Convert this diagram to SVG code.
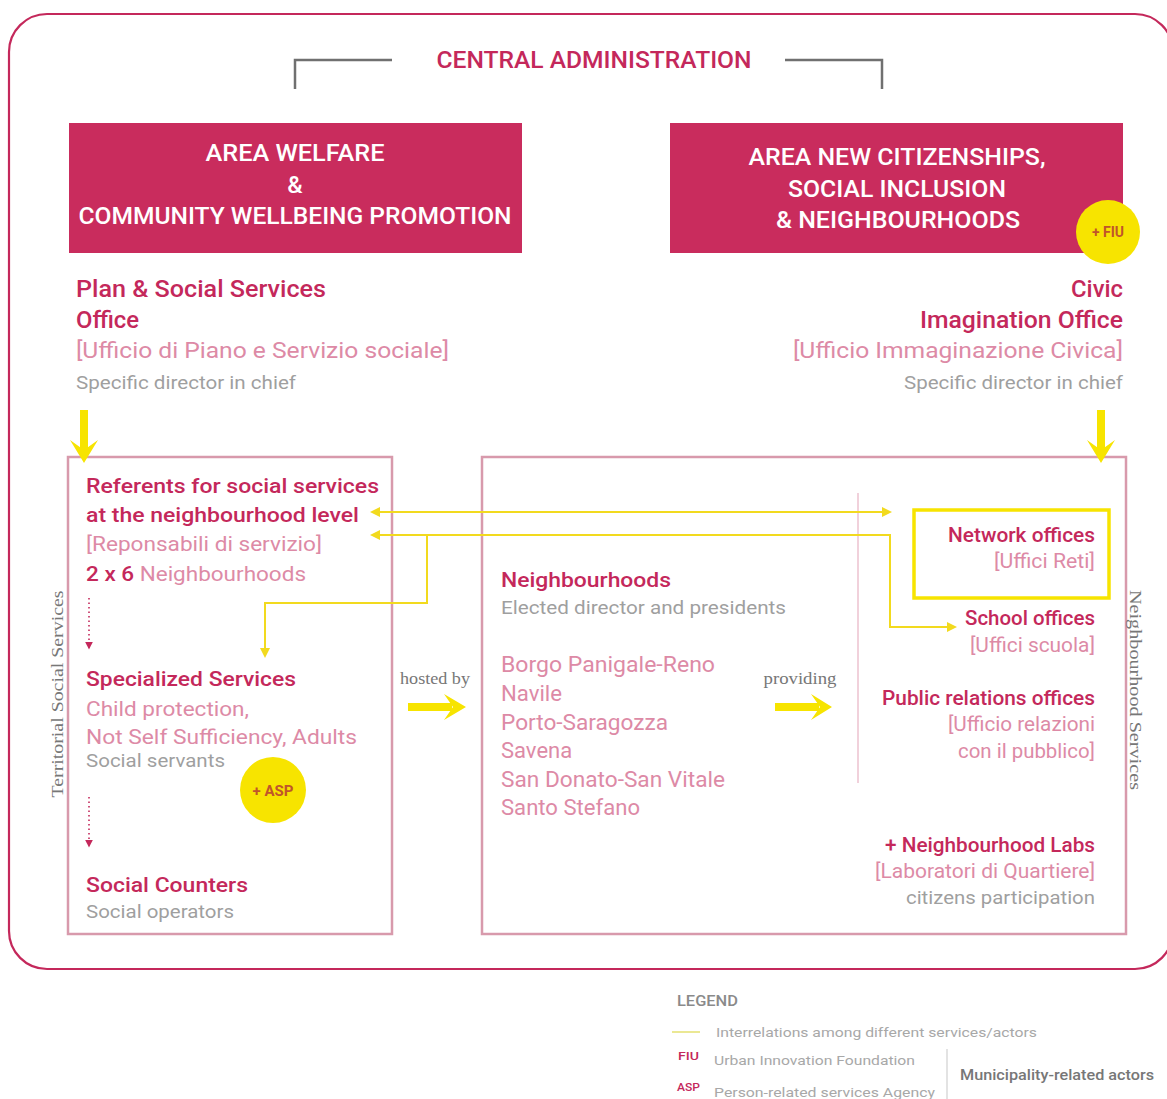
<svg xmlns="http://www.w3.org/2000/svg" width="1167" height="1099" viewBox="0 0 1167 1099">
  <style>
    text { font-family: Roboto, "Liberation Sans", sans-serif; }
    .hdr { fill: #ffffff; font-size: 24px; font-weight: 500; text-anchor: middle; }
    .ttl { fill: #c4285b; font-size: 24px; font-weight: 500; }
    .sub { fill: #c4285b; font-size: 21px; font-weight: 500; }
    .lt  { fill: #dd8aa6; font-size: 22px; }
    .lts { fill: #dd8aa6; font-size: 20px; }
    .gr  { fill: #9f9f9f; font-size: 19px; }
    .end { text-anchor: end; }
    .serif { font-family: "Liberation Serif", serif; fill: #777777; font-size: 17px; }
    .box { fill: #c92c5d; }
    .panel { fill: none; stroke: #d89aac; stroke-width: 2.5; }
    .yel { fill: #f7e400; }
    .link { fill: none; stroke: #f2da1e; stroke-width: 2; }
    .dot { fill: none; stroke: #c4285b; stroke-width: 1.6; stroke-dasharray: 1.5 3; }
    .leg { fill: #a8a8a8; font-size: 13.5px; }
  </style>
  <defs>
    <marker id="tip" viewBox="0 0 10 10" refX="8" refY="5" markerWidth="5" markerHeight="5" orient="auto-start-reverse">
      <path d="M0 0 L10 5 L0 10 Z" fill="#f2da1e"/>
    </marker>
    <marker id="dtip" viewBox="0 0 10 10" refX="8" refY="5" markerWidth="5" markerHeight="5" orient="auto">
      <path d="M0 0 L10 5 L0 10 Z" fill="#c4285b"/>
    </marker>
  </defs>

  <!-- outer frame -->
  <rect x="9" y="14" width="1164" height="955" rx="38" fill="none" stroke="#c4285b" stroke-width="2.2"/>

  <!-- central administration heading with brackets -->
  <g id="central">
    <path d="M295 89 V60 H392" fill="none" stroke="#707070" stroke-width="2.5"/>
    <path d="M785 60 H882 V89" fill="none" stroke="#707070" stroke-width="2.5"/>
    <text x="594" y="68" text-anchor="middle" fill="#c4285b" font-size="24" font-weight="500" textLength="315" lengthAdjust="spacingAndGlyphs">CENTRAL ADMINISTRATION</text>
  </g>

  <!-- area headers -->
  <g id="area-welfare">
    <rect class="box" x="69" y="123" width="453" height="130"/>
    <text class="hdr" x="295" y="161" textLength="179" lengthAdjust="spacingAndGlyphs">AREA WELFARE</text>
    <text class="hdr" x="295" y="193">&amp;</text>
    <text class="hdr" x="295" y="224" textLength="433" lengthAdjust="spacingAndGlyphs">COMMUNITY WELLBEING PROMOTION</text>
  </g>
  <g id="area-citizenships">
    <rect class="box" x="670" y="123" width="453" height="130"/>
    <text class="hdr" x="897" y="165" textLength="297" lengthAdjust="spacingAndGlyphs">AREA NEW CITIZENSHIPS,</text>
    <text class="hdr" x="897" y="197" textLength="218" lengthAdjust="spacingAndGlyphs">SOCIAL INCLUSION</text>
    <text class="hdr" x="898" y="228" textLength="244" lengthAdjust="spacingAndGlyphs">&amp; NEIGHBOURHOODS</text>
    <circle class="yel" cx="1108" cy="232" r="32"/>
    <text x="1108" y="237" text-anchor="middle" fill="#c0552a" font-size="14" font-weight="700">+ FIU</text>
  </g>

  <!-- offices -->
  <g id="plan-office">
    <text class="ttl" x="76" y="297" textLength="250" lengthAdjust="spacingAndGlyphs">Plan &amp; Social Services</text>
    <text class="ttl" x="76" y="328" textLength="63" lengthAdjust="spacingAndGlyphs">Office</text>
    <text class="lt" x="76" y="358" textLength="373" lengthAdjust="spacingAndGlyphs">[Ufficio di Piano e Servizio sociale]</text>
    <text class="gr" x="76" y="389" textLength="220" lengthAdjust="spacingAndGlyphs">Specific director in chief</text>
  </g>
  <g id="civic-office">
    <text class="ttl end" x="1123" y="297" textLength="52" lengthAdjust="spacingAndGlyphs">Civic</text>
    <text class="ttl end" x="1123" y="328" textLength="203" lengthAdjust="spacingAndGlyphs">Imagination Office</text>
    <text class="lt end" x="1123" y="358" textLength="330" lengthAdjust="spacingAndGlyphs">[Ufficio Immaginazione Civica]</text>
    <text class="gr end" x="1123" y="389" textLength="219" lengthAdjust="spacingAndGlyphs">Specific director in chief</text>
  </g>

  <!-- territorial social services panel -->
  <g id="territorial">
    <rect class="panel" x="68" y="457" width="324" height="477"/>
    <text class="serif" transform="translate(63 694) rotate(-90)" text-anchor="middle" textLength="207" lengthAdjust="spacingAndGlyphs">Territorial Social Services</text>
    <text class="sub" x="86" y="493" textLength="293" lengthAdjust="spacingAndGlyphs">Referents for social services</text>
    <text class="sub" x="86" y="522" textLength="273" lengthAdjust="spacingAndGlyphs">at the neighbourhood level</text>
    <text class="lts" x="86" y="551" textLength="236" lengthAdjust="spacingAndGlyphs">[Reponsabili di servizio]</text>
    <text class="lts" x="86" y="581" textLength="220" lengthAdjust="spacingAndGlyphs"><tspan fill="#c4285b" font-weight="500">2 x 6</tspan> Neighbourhoods</text>
    <path class="dot" d="M89 598 V648" marker-end="url(#dtip)"/>
    <text class="sub" x="86" y="686" textLength="210" lengthAdjust="spacingAndGlyphs">Specialized Services</text>
    <text class="lts" x="86" y="716" textLength="163" lengthAdjust="spacingAndGlyphs">Child protection,</text>
    <text class="lts" x="86" y="744" textLength="271" lengthAdjust="spacingAndGlyphs">Not Self Sufficiency, Adults</text>
    <text class="gr" x="86" y="767" textLength="139" lengthAdjust="spacingAndGlyphs">Social servants</text>
    <circle class="yel" cx="273" cy="790" r="33"/>
    <text x="273" y="796" text-anchor="middle" fill="#c0552a" font-size="15" font-weight="700">+ ASP</text>
    <path class="dot" d="M89 797 V846" marker-end="url(#dtip)"/>
    <text class="sub" x="86" y="892" textLength="162" lengthAdjust="spacingAndGlyphs">Social Counters</text>
    <text class="gr" x="86" y="918" textLength="148" lengthAdjust="spacingAndGlyphs">Social operators</text>
  </g>

  <!-- neighbourhoods panel -->
  <g id="neighbourhoods">
    <rect class="panel" x="482" y="457" width="644" height="477"/>
    <text class="serif" transform="translate(1130 690) rotate(90)" text-anchor="middle" textLength="200" lengthAdjust="spacingAndGlyphs">Neighbourhood Services</text>
    <line x1="858" y1="493" x2="858" y2="783" stroke="#ecc2cf" stroke-width="1.5"/>
    <text class="sub" x="501" y="587" textLength="170" lengthAdjust="spacingAndGlyphs">Neighbourhoods</text>
    <text class="gr" x="501" y="614" textLength="285" lengthAdjust="spacingAndGlyphs">Elected director and presidents</text>
    <text class="lt" x="501" y="672" textLength="214" lengthAdjust="spacingAndGlyphs">Borgo Panigale-Reno</text>
    <text class="lt" x="501" y="701" textLength="61" lengthAdjust="spacingAndGlyphs">Navile</text>
    <text class="lt" x="501" y="730" textLength="167" lengthAdjust="spacingAndGlyphs">Porto-Saragozza</text>
    <text class="lt" x="501" y="758">Savena</text>
    <text class="lt" x="501" y="787" textLength="224" lengthAdjust="spacingAndGlyphs">San Donato-San Vitale</text>
    <text class="lt" x="501" y="815" textLength="139" lengthAdjust="spacingAndGlyphs">Santo Stefano</text>
  </g>

  <g id="network-offices">
    <rect x="914" y="510" width="195" height="88" fill="none" stroke="#f7e400" stroke-width="3.5"/>
    <text class="sub end" x="1095" y="542" textLength="147" lengthAdjust="spacingAndGlyphs">Network offices</text>
    <text class="lts end" x="1095" y="568" textLength="101" lengthAdjust="spacingAndGlyphs">[Uffici Reti]</text>
  </g>
  <g id="school-offices">
    <text class="sub end" x="1095" y="625" textLength="130" lengthAdjust="spacingAndGlyphs">School offices</text>
    <text class="lts end" x="1095" y="652" textLength="125" lengthAdjust="spacingAndGlyphs">[Uffici scuola]</text>
  </g>
  <g id="public-relations">
    <text class="sub end" x="1095" y="705" textLength="213" lengthAdjust="spacingAndGlyphs">Public relations offices</text>
    <text class="lts end" x="1095" y="731" textLength="147" lengthAdjust="spacingAndGlyphs">[Ufficio relazioni</text>
    <text class="lts end" x="1095" y="758" textLength="137" lengthAdjust="spacingAndGlyphs">con il pubblico]</text>
  </g>
  <g id="neighbourhood-labs">
    <text class="sub end" x="1095" y="852" textLength="210" lengthAdjust="spacingAndGlyphs">+ Neighbourhood Labs</text>
    <text class="lts end" x="1095" y="878" textLength="220" lengthAdjust="spacingAndGlyphs">[Laboratori di Quartiere]</text>
    <text class="gr end" x="1095" y="904" textLength="189" lengthAdjust="spacingAndGlyphs">citizens participation</text>
  </g>

  <!-- connectors -->
  <g id="connectors">
    <!-- office to panel arrows -->
    <path class="yel" d="M80 410 H88 V449 L84 452 L80 449 Z"/>
    <path class="yel" d="M70 440 L84 450 L98 440 L84 463 Z"/>
    <path class="yel" d="M1097 410 H1105 V449 L1101 452 L1097 449 Z"/>
    <path class="yel" d="M1087 440 L1101 450 L1115 440 L1101 463 Z"/>
    <!-- hosted by -->
    <text class="serif" x="435" y="684" text-anchor="middle" font-size="16" textLength="70" lengthAdjust="spacingAndGlyphs">hosted by</text>
    <path class="yel" d="M408 703 H452 V711 H408 Z"/>
    <path class="yel" d="M444 694 L466 707 L444 720 L453 707 Z"/>
    <!-- providing -->
    <text class="serif" x="800" y="684" text-anchor="middle" font-size="16" textLength="73" lengthAdjust="spacingAndGlyphs">providing</text>
    <path class="yel" d="M775 703 H819 V711 H775 Z"/>
    <path class="yel" d="M811 694 L832 707 L811 720 L820 707 Z"/>
    <!-- interrelations -->
    <path class="link" d="M372 512 H890" marker-start="url(#tip)" marker-end="url(#tip)"/>
    <path class="link" d="M372 535 H890 V627 H955" marker-start="url(#tip)" marker-end="url(#tip)"/>
    <path class="link" d="M427 535 V603 H265 V656" marker-end="url(#tip)"/>
  </g>

  <!-- legend -->
  <g id="legend">
    <text x="677" y="1006" fill="#8a8a8a" font-size="14" font-weight="500" textLength="61" lengthAdjust="spacingAndGlyphs">LEGEND</text>
    <line x1="672" y1="1032" x2="700" y2="1032" stroke="#e4e070" stroke-width="1.5"/>
    <text class="leg" x="716" y="1037" textLength="321" lengthAdjust="spacingAndGlyphs">Interrelations among different services/actors</text>
    <text x="678" y="1060" fill="#c4285b" font-size="11" font-weight="500" textLength="21" lengthAdjust="spacingAndGlyphs">FIU</text>
    <text class="leg" x="714" y="1065" textLength="201" lengthAdjust="spacingAndGlyphs">Urban Innovation Foundation</text>
    <text x="677" y="1091" fill="#c4285b" font-size="11" font-weight="500" textLength="23" lengthAdjust="spacingAndGlyphs">ASP</text>
    <text class="leg" x="714" y="1097" textLength="221" lengthAdjust="spacingAndGlyphs">Person-related services Agency</text>
    <line x1="947" y1="1049" x2="947" y2="1099" stroke="#d0d0d0" stroke-width="1.2"/>
    <text x="960" y="1080" fill="#777777" font-size="14" font-weight="500" textLength="194" lengthAdjust="spacingAndGlyphs">Municipality-related actors</text>
  </g>
</svg>
